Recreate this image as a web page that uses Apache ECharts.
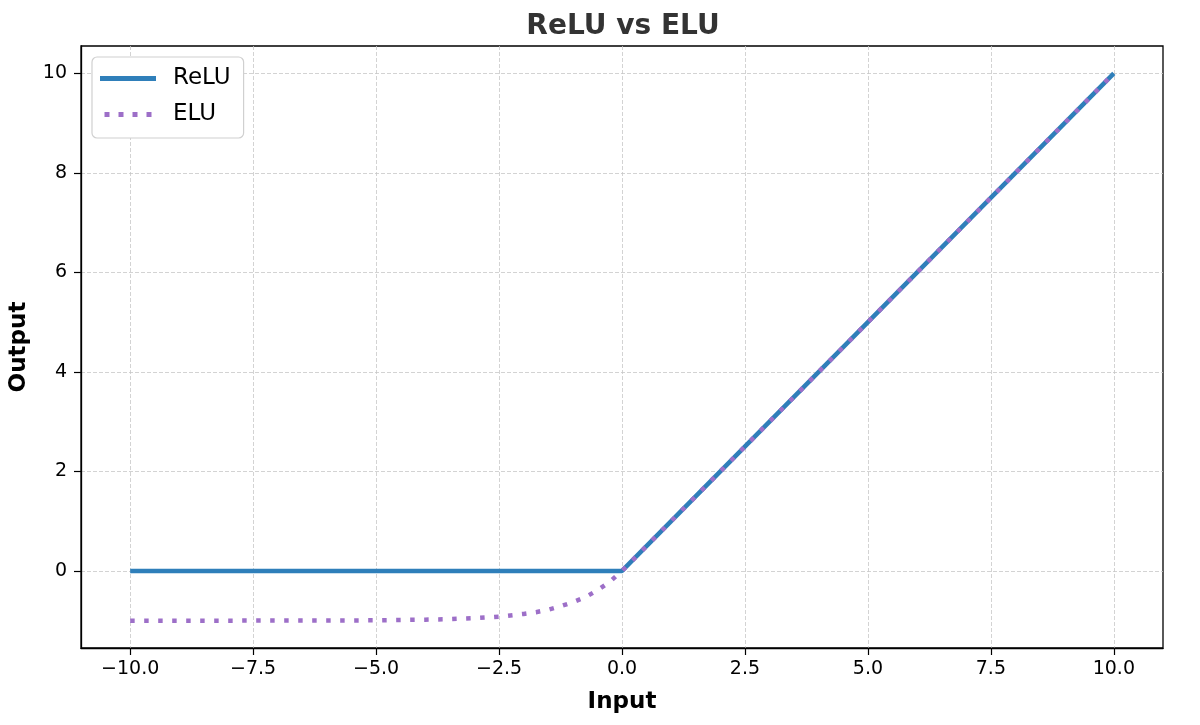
<!doctype html>
<html>
<head>
<meta charset="utf-8">
<style>html,body{margin:0;padding:0;background:#fff}#main{width:1200px;height:725px}</style>
</head>
<body>
<div id="main"></div>
<script src="https://cdn.jsdelivr.net/npm/echarts@6/dist/echarts.min.js"></script>
<script>
var reluX = [-10, 0, 10];
var reluY = [0, 0, 10];
var eluX = [-10, -9, -8, -7, -6, -5, -4, -3.5, -3, -2.5, -2, -1.75, -1.5, -1.25, -1, -0.75, -0.5, -0.25, 0, 10];
var eluY = [-1.0, -1.0, -1.0, -0.999, -0.998, -0.993, -0.98, -0.97, -0.95, -0.92, -0.865, -0.83, -0.78, -0.71, -0.63, -0.53, -0.39, -0.22, 0, 10];
var xTicks = [-10, -7.5, -5, -2.5, 0, 2.5, 5, 7.5, 10];
var yTicks = [0, 2, 4, 6, 8, 10];

function pairs(xs, ys) {
    return xs.map(function (x, i) { return [x, ys[i]]; });
}

var font = 'DejaVu Sans';
var reluColor = '#2f7fba';
var eluColor = '#9d6fc8';
var chart = echarts.init(document.getElementById('main'));

chart.setOption({
    animation: false,
    textStyle: { fontFamily: font },
    title: {
        text: 'ReLU vs ELU',
        left: 618,
        top: 8,
        textAlign: 'center',
        textStyle: { fontSize: 28, fontWeight: 'bold', color: '#333', fontFamily: font }
    },
    legend: {
        left: 92,
        top: 57,
        orient: 'vertical',
        itemWidth: 56,
        itemHeight: 5,
        itemGap: 13,
        padding: [10, 13, 12, 8],
        borderColor: '#d0d0d0',
        borderWidth: 1.2,
        borderRadius: 5,
        backgroundColor: '#fff',
        textStyle: { fontSize: 23, color: '#000', fontFamily: font, padding: [0, 0, 0, 12] },
        data: [
            { name: 'ReLU', icon: 'path://M0,0h56v5h-56z' },
            { name: 'ELU', icon: 'path://M0,0h5v5h-5z M14,0h5v5h-5z M28,0h5v5h-5z M42,0h5v5h-5z' }
        ]
    },
    grid: {
        left: 81, right: 37, top: 46, bottom: 77,
        show: true, borderColor: '#000', borderWidth: 1.3,
        containLabel: false
    },
    xAxis: {
        type: 'value',
        min: -11, max: 11,
        name: 'Input',
        nameLocation: 'middle',
        nameGap: 43,
        nameTextStyle: { fontSize: 23, fontWeight: 'bold', color: '#000', fontFamily: font },
        axisLine: { show: true, onZero: false, lineStyle: { color: '#000', width: 1.3 } },
        axisTick: { show: true, length: 7, lineStyle: { color: '#000', width: 1.2 }, customValues: xTicks },
        axisLabel: {
            fontSize: 19, color: '#000', margin: 12, fontFamily: font,
            customValues: xTicks,
            formatter: function (v) { return v.toFixed(1).replace('-', '\u2212'); }
        },
        splitLine: { show: true, lineStyle: { color: '#c8c8c8', type: [4, 2], width: 0.8 } }
    },
    yAxis: {
        type: 'value',
        min: -1.55, max: 10.55,
        name: 'Output',
        nameLocation: 'middle',
        nameGap: 50,
        nameTextStyle: { fontSize: 23, fontWeight: 'bold', color: '#000', fontFamily: font },
        axisLine: { show: true, onZero: false, lineStyle: { color: '#000', width: 1.3 } },
        axisTick: { show: true, length: 7, lineStyle: { color: '#000', width: 1.2 }, customValues: yTicks },
        axisLabel: {
            fontSize: 19, color: '#000', margin: 14, fontFamily: font,
            customValues: yTicks,
            formatter: function (v) { return String(v); }
        },
        splitLine: { show: true, lineStyle: { color: '#c8c8c8', type: [4, 2], width: 0.8 } }
    },
    series: [
        {
            name: 'ReLU',
            type: 'line',
            data: pairs(reluX, reluY),
            showSymbol: false,
            symbol: 'none',
            color: reluColor,
            lineStyle: { width: 4.5, color: reluColor },
            z: 2
        },
        {
            name: 'ELU',
            type: 'line',
            data: pairs(eluX, eluY),
            showSymbol: false,
            symbol: 'none',
            color: eluColor,
            lineStyle: { width: 4.5, color: eluColor, type: [4.5, 9.5] },
            z: 3
        }
    ]
});

window.onresize = chart.resize;
</script>
</body>
</html>
